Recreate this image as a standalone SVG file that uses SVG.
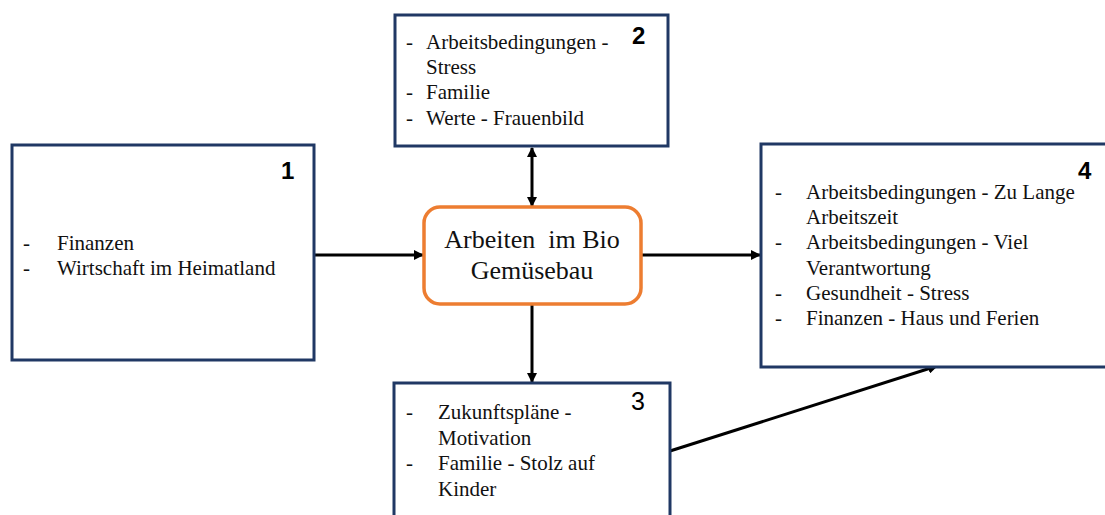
<svg xmlns="http://www.w3.org/2000/svg" width="1105" height="515" viewBox="0 0 1105 515">
<defs>
<style>
.box{fill:#fff;stroke:#203864;stroke-width:3}
.ctr{fill:#fff;stroke:#ED7D31;stroke-width:3.5}
.t{font-family:"Liberation Serif","Times New Roman",serif;font-size:21px;fill:#111}
.c{font-family:"Liberation Serif","Times New Roman",serif;font-size:26px;fill:#111;text-anchor:middle}
.n{font-family:"Liberation Sans",Arial,sans-serif;font-size:24px;font-weight:bold;fill:#000}
.e{stroke:#000;stroke-width:3;fill:none}
</style>
<marker id="ah" viewBox="0 0 10 10" refX="9" refY="5" markerWidth="10" markerHeight="10" markerUnits="userSpaceOnUse" orient="auto-start-reverse">
<path d="M0,0 L10,5 L0,10 z" fill="#000"/>
</marker>
</defs>
<rect width="1105" height="515" fill="#fff"/>
<g id="connectors">
<line class="e" x1="314" y1="255" x2="423" y2="255" marker-end="url(#ah)"/>
<line class="e" x1="641" y1="255" x2="760" y2="255" marker-end="url(#ah)"/>
<line class="e" x1="532" y1="148" x2="532" y2="206" marker-start="url(#ah)" marker-end="url(#ah)"/>
<line class="e" x1="532" y1="305" x2="532" y2="382" marker-end="url(#ah)"/>
<line class="e" x1="670" y1="451" x2="937" y2="366" marker-end="url(#ah)"/>
</g>
<g id="node1">
<rect class="box" x="12" y="145" width="302" height="215"/>
<text class="n" x="281" y="179">1</text>
<text class="t" x="23" y="250">-</text><text class="t" x="57" y="250">Finanzen</text>
<text class="t" x="23" y="275">-</text><text class="t" x="57" y="275">Wirtschaft im Heimatland</text>
</g>
<g id="node2">
<rect class="box" x="395" y="15" width="273" height="131"/>
<text class="n" x="632" y="44">2</text>
<text class="t" x="406" y="49">-</text><text class="t" x="426" y="49">Arbeitsbedingungen -</text>
<text class="t" x="426" y="74">Stress</text>
<text class="t" x="406" y="99">-</text><text class="t" x="426" y="99">Familie</text>
<text class="t" x="406" y="125">-</text><text class="t" x="426" y="125">Werte - Frauenbild</text>
</g>
<g id="center">
<rect class="ctr" x="424" y="207" width="217" height="97" rx="16" ry="16"/>
<text class="c" x="532" y="248" xml:space="preserve">Arbeiten  im Bio</text>
<text class="c" x="532" y="279">Gemüsebau</text>
</g>
<g id="node3">
<rect class="box" x="394" y="383" width="276" height="140"/>
<text class="n" x="631" y="410" style="font-weight:normal;font-size:25px">3</text>
<text class="t" x="406" y="419">-</text><text class="t" x="438" y="419">Zukunftspläne -</text>
<text class="t" x="438" y="445">Motivation</text>
<text class="t" x="406" y="470">-</text><text class="t" x="438" y="470">Familie - Stolz auf</text>
<text class="t" x="438" y="496">Kinder</text>
</g>
<g id="node4">
<rect class="box" x="761" y="144" width="360" height="223"/>
<text class="n" x="1078" y="179">4</text>
<text class="t" x="775" y="199">-</text><text class="t" x="806" y="199">Arbeitsbedingungen - Zu Lange</text>
<text class="t" x="806" y="224">Arbeitszeit</text>
<text class="t" x="775" y="249">-</text><text class="t" x="806" y="249">Arbeitsbedingungen - Viel</text>
<text class="t" x="806" y="275">Verantwortung</text>
<text class="t" x="775" y="300">-</text><text class="t" x="806" y="300">Gesundheit - Stress</text>
<text class="t" x="775" y="325">-</text><text class="t" x="806" y="325">Finanzen - Haus und Ferien</text>
</g>
</svg>
